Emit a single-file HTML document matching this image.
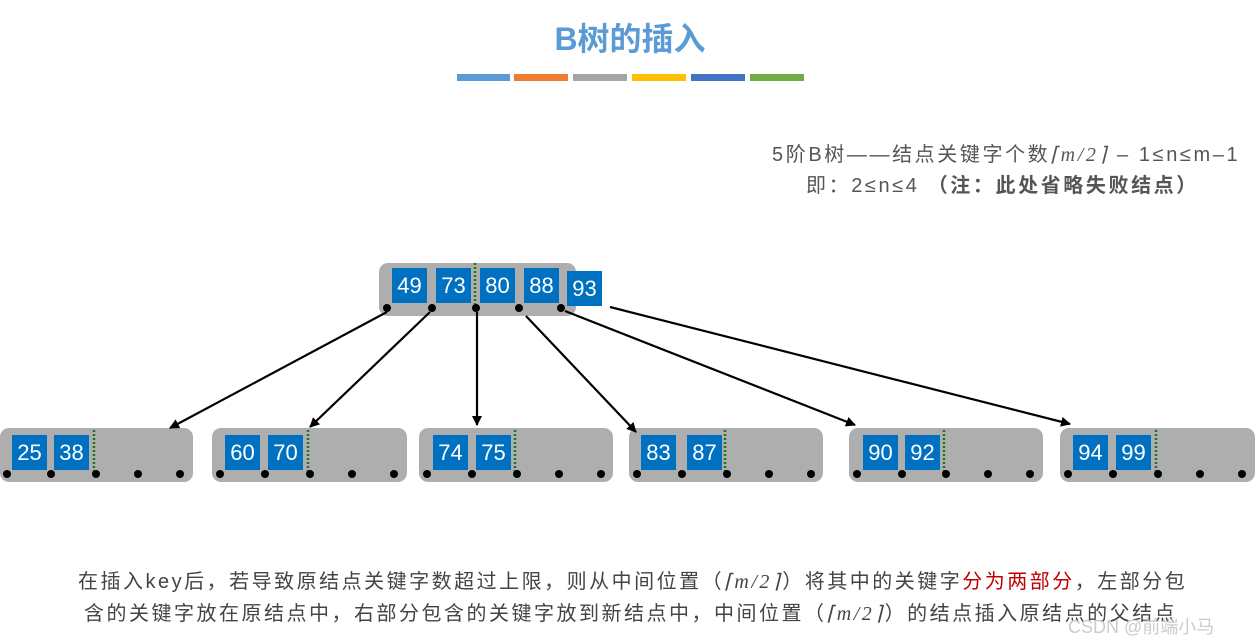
<!DOCTYPE html>
<html><head><meta charset="utf-8"><style>
body{margin:0;width:1260px;height:644px;background:#fff;position:relative;overflow:hidden;font-family:"Liberation Sans","Noto Sans CJK SC",sans-serif}
.a{position:absolute}
.k{position:absolute;background:#0070c0;color:#fff;font-size:22px;text-align:center;line-height:35px;width:35px;height:35px}
.n{position:absolute;background:#aeaeae;border-radius:9px}
.t{position:absolute;white-space:nowrap;color:#444;font-size:20px;letter-spacing:2.5px}
i.m{font-family:"Liberation Serif",serif}
</style></head><body>
<div class="a" style="left:0;top:14px;width:1260px;text-align:center;color:#5b9bd5;font-size:32px;font-weight:bold">B树的插入</div>
<div class="a" style="left:457px;top:74px;width:53px;height:7px;background:#5b9bd5"></div>
<div class="a" style="left:514px;top:74px;width:54px;height:7px;background:#ed7d31"></div>
<div class="a" style="left:573px;top:74px;width:54px;height:7px;background:#a5a5a5"></div>
<div class="a" style="left:632px;top:74px;width:54px;height:7px;background:#ffc000"></div>
<div class="a" style="left:691px;top:74px;width:54px;height:7px;background:#4472c4"></div>
<div class="a" style="left:750px;top:74px;width:54px;height:7px;background:#70ad47"></div>
<div class="t" style="left:772px;top:138px;color:#555;letter-spacing:2.6px">5阶B树——结点关键字个数<i class="m">⌈m/2⌉</i> – 1≤n≤m–1</div>
<div class="t" style="left:806px;top:169px;color:#555;letter-spacing:2.6px">即：2≤n≤4 <b>（注：此处省略失败结点）</b></div>

<div class="n" style="left:379px;top:263px;width:197px;height:53px"></div>
<div class="k" style="left:392px;top:268px">49</div>
<div class="k" style="left:436px;top:268px">73</div>
<div class="k" style="left:480px;top:268px">80</div>
<div class="k" style="left:524px;top:268px">88</div>
<div class="k" style="left:567px;top:271px">93</div>

<div class="n" style="left:0;top:428px;width:193px;height:54px"></div>
<div class="n" style="left:212px;top:428px;width:195px;height:54px"></div>
<div class="n" style="left:419px;top:428px;width:194px;height:54px"></div>
<div class="n" style="left:629px;top:428px;width:194px;height:54px"></div>
<div class="n" style="left:849px;top:428px;width:194px;height:54px"></div>
<div class="n" style="left:1060px;top:428px;width:195px;height:54px"></div>
<div class="k" style="left:12px;top:435px">25</div><div class="k" style="left:54px;top:435px">38</div>
<div class="k" style="left:225px;top:435px">60</div><div class="k" style="left:268px;top:435px">70</div>
<div class="k" style="left:433px;top:435px">74</div><div class="k" style="left:476px;top:435px">75</div>
<div class="k" style="left:641px;top:435px">83</div><div class="k" style="left:687px;top:435px">87</div>
<div class="k" style="left:863px;top:435px">90</div><div class="k" style="left:905px;top:435px">92</div>
<div class="k" style="left:1073px;top:435px">94</div><div class="k" style="left:1116px;top:435px">99</div>

<svg class="a" style="left:0;top:0" width="1260" height="644">
<defs><marker id="ar" markerWidth="10" markerHeight="10" refX="9" refY="5" orient="auto" markerUnits="userSpaceOnUse"><path d="M0,0 L10,5 L0,10 z" fill="#000"/></marker></defs>
<g stroke="#000" stroke-width="2.2" fill="none" marker-end="url(#ar)">
<line x1="387" y1="312" x2="170" y2="428"/>
<line x1="430" y1="312" x2="310" y2="427"/>
<line x1="477" y1="312" x2="477" y2="425"/>
<line x1="526" y1="316" x2="636" y2="432"/>
<line x1="565" y1="311" x2="855" y2="425"/>
<line x1="610" y1="307" x2="1070" y2="424"/>
</g>
<g stroke="#1a7a1a" stroke-width="2.5" stroke-dasharray="2,2">
<line x1="475" y1="263" x2="475" y2="308"/>
<line x1="94" y1="430" x2="94" y2="472"/>
<line x1="308" y1="430" x2="308" y2="472"/>
<line x1="515" y1="430" x2="515" y2="472"/>
<line x1="725" y1="430" x2="725" y2="472"/>
<line x1="944" y1="430" x2="944" y2="472"/>
<line x1="1156" y1="430" x2="1156" y2="472"/>
</g>
<g fill="#000">
<circle cx="387" cy="308" r="4"/><circle cx="432" cy="308" r="4"/><circle cx="476" cy="308" r="4"/><circle cx="519" cy="308" r="4"/><circle cx="561" cy="308" r="4"/>
<circle cx="7" cy="474" r="4"/><circle cx="51" cy="474" r="4"/><circle cx="96" cy="474" r="4"/><circle cx="138" cy="474" r="4"/><circle cx="180" cy="474" r="4"/>
<circle cx="220" cy="474" r="4"/><circle cx="265" cy="474" r="4"/><circle cx="310" cy="474" r="4"/><circle cx="352" cy="474" r="4"/><circle cx="394" cy="474" r="4"/>
<circle cx="427" cy="474" r="4"/><circle cx="472" cy="474" r="4"/><circle cx="517" cy="474" r="4"/><circle cx="559" cy="474" r="4"/><circle cx="601" cy="474" r="4"/>
<circle cx="637" cy="474" r="4"/><circle cx="682" cy="474" r="4"/><circle cx="727" cy="474" r="4"/><circle cx="769" cy="474" r="4"/><circle cx="811" cy="474" r="4"/>
<circle cx="857" cy="474" r="4"/><circle cx="902" cy="474" r="4"/><circle cx="946" cy="474" r="4"/><circle cx="988" cy="474" r="4"/><circle cx="1030" cy="474" r="4"/>
<circle cx="1068" cy="474" r="4"/><circle cx="1113" cy="474" r="4"/><circle cx="1158" cy="474" r="4"/><circle cx="1200" cy="474" r="4"/><circle cx="1242" cy="474" r="4"/>
</g>
</svg>

<div class="t" style="left:78px;top:565px">在插入key后，若导致原结点关键字数超过上限，则从中间位置（<i class="m">⌈m/2⌉</i>）将其中的关键字<span style="color:#c00000">分为两部分</span>，左部分包</div>
<div class="t" style="left:84px;top:597px">含的关键字放在原结点中，右部分包含的关键字放到新结点中，中间位置（<i class="m">⌈m/2⌉</i>）的结点插入原结点的父结点</div>
<div class="a" style="left:1068px;top:613px;font-size:18px;color:#ccc;white-space:nowrap">CSDN @前端小马</div>
</body></html>
